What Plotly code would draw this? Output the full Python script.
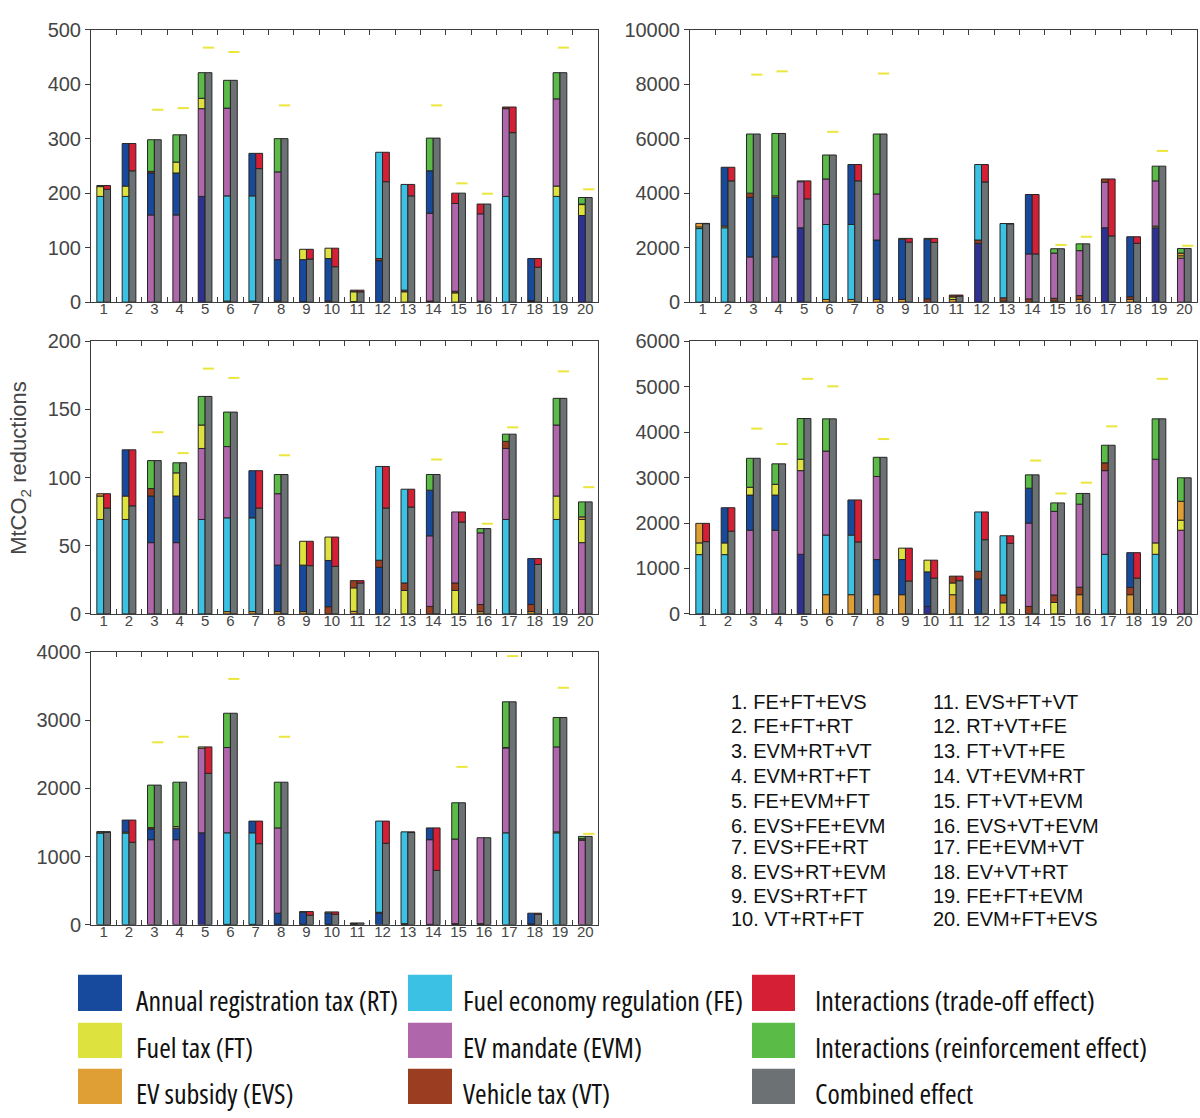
import plotly.graph_objects as go

W, H = 1200, 1118

# ---------------- data ----------------
CATEGORIES = list(range(1, 21))
CAT_LABELS = [str(c) for c in CATEGORIES]

COMBOS = [
    ["FE", "FT", "EVS"], ["FE", "FT", "RT"], ["EVM", "RT", "VT"], ["EVM", "RT", "FT"],
    ["FE", "EVM", "FT"], ["EVS", "FE", "EVM"], ["EVS", "FE", "RT"], ["EVS", "RT", "EVM"],
    ["EVS", "RT", "FT"], ["VT", "RT", "FT"], ["EVS", "FT", "VT"], ["RT", "VT", "FE"],
    ["FT", "VT", "FE"], ["VT", "EVM", "RT"], ["FT", "VT", "EVM"], ["EVS", "VT", "EVM"],
    ["FE", "EVM", "VT"], ["EVS", "VT", "RT"], ["FE", "FT", "EVM"], ["EVM", "FT", "EVS"],
]

COMBO_NAMES_1 = ["1. FE+FT+EVS", "2. FE+FT+RT", "3. EVM+RT+VT", "4. EVM+RT+FT", "5. FE+EVM+FT",
                 "6. EVS+FE+EVM", "7. EVS+FE+RT", "8. EVS+RT+EVM", "9. EVS+RT+FT", "10. VT+RT+FT"]
COMBO_NAMES_2 = ["11. EVS+FT+VT", "12. RT+VT+FE", "13. FT+VT+FE", "14. VT+EVM+RT", "15. FT+VT+EVM",
                 "16. EVS+VT+EVM", "17. FE+EVM+VT", "18. EV+VT+RT", "19. FE+FT+EVM", "20. EVM+FT+EVS"]

LEGEND_LABELS = [
    ["Annual registration tax (RT)", "Fuel economy regulation (FE)", "Interactions (trade-off effect)"],
    ["Fuel tax (FT)", "EV mandate (EVM)", "Interactions (reinforcement effect)"],
    ["EV subsidy (EVS)", "Vehicle tax (VT)", "Combined effect"],
]
LEGEND_KEYS = [["RT", "FE", "TRADE"], ["FT", "EVM", "REINF"], ["EVS", "VT", "COMB"]]

# Panel A (0-500)
A_PARTS = [[194, 18, 2], [194, 19, 78], [160, 77, 3], [160, 77, 20], [194, 161, 19],
           [2, 193, 161], [2, 193, 78], [2, 76, 161], [1, 77, 19], [2, 78, 19],
           [1, 18, 3], [76, 4, 195], [19, 3, 194], [2, 161, 78], [17, 3, 161],
           [1, 1, 160], [194, 161, 3], [1, 2, 77], [194, 19, 160], [159, 20, 1]]
A_INTER = [-7, -50, 58, 50, 47, 51, -28, 61, -18, -34, -3, -54, -21, 60, 19, 18, -47, -16, 48, 12]
A_MARK = [None, None, 353, 356, 467, 459, None, 361, None, None,
          None, None, None, 361, 218, 199, None, None, 467, 207]

# Panel B (0-10000)
B_PARTS = [[2700, 60, 130], [2730, 60, 2160], [1660, 2190, 150], [1660, 2190, 50], [2730, 1690, 30],
           [100, 2750, 1670], [100, 2750, 2200], [100, 2180, 1690], [100, 2210, 30], [120, 2190, 30],
           [100, 90, 70], [2160, 120, 2770], [40, 120, 2725], [120, 1650, 2180], [40, 100, 1660],
           [100, 140, 1650], [2730, 1670, 120], [100, 100, 2200], [2730, 60, 1660], [1620, 80, 100]]
B_INTER = [-10, -500, 2170, 2290, -660, 880, -600, 2200, -140, -150,
           -40, -640, -10, -2180, 160, 250, -2090, -240, 540, 170]
B_MARK = [None, None, 8350, 8470, None, 6250, None, 8390, None, None,
          None, None, None, None, 2100, 2400, None, None, 5550, 2070]

# Panel C (0-200)
C_PARTS = [[69.3, 17.2, 1.7], [69.3, 17.2, 33.9], [52.3, 34.2, 5.5], [52.3, 34.2, 17], [69.3, 52.1, 17.2],
           [1.7, 68.8, 52.3], [1.7, 68.8, 34.6], [1.7, 34.1, 52.4], [1.7, 34.1, 17.5], [5.3, 33.9, 17.2],
           [1.9, 17.2, 5.3], [34.2, 5.2, 68.8], [17.2, 5.5, 68.8], [5.5, 51.8, 33.5], [17.2, 5.5, 52.1],
           [1.7, 5.2, 52.6], [69.3, 52.1, 5.2], [1.7, 5.2, 33.7], [69.3, 17.2, 52.1], [52.3, 17, 1.9]]
C_INTER = [-10.5, -41.1, 20.5, 7.4, 21, 25.3, -27.4, 14.1, -17.9, -21.5,
           -1.7, -30.5, -13.1, 11.5, -7.4, 3.1, 5.3, -4.3, 19.6, 11]
C_MARK = [None, None, 133.3, 118, 180, 173.2, None, 116.4, None, None,
          None, None, None, 113.3, None, 66.2, 136.9, None, 178, 93]

# Panel D (0-6000)
D_PARTS = [[1305, 258, 430], [1305, 258, 774], [1842, 774, 172], [1842, 774, 237], [1312, 1842, 251],
           [423, 1312, 1849], [423, 1312, 774], [423, 774, 1828], [423, 774, 251], [165, 760, 258],
           [423, 258, 150], [767, 172, 1305], [244, 172, 1304], [165, 1835, 767], [251, 165, 1842],
           [423, 165, 1828], [1312, 1842, 172], [423, 158, 767], [1312, 251, 1842], [1842, 222, 416]]
D_INTER = [-402, -516, 638, 451, 896, 710, -925, 423, -724, -395,
           -100, -610, -165, 294, 186, 236, 387, -560, 889, 516]
D_MARK = [None, None, 4079, 3742, 5175, 5010, None, 3849, None, None,
          None, None, None, 3376, 2652, 2889, 4129, None, 5175, None]

# Panel E (0-4000)
E_PARTS = [[1345, 15, 5], [1345, 15, 175], [1247, 158, 19], [1247, 168, 24], [1348, 1242, 19],
           [5, 1343, 1252], [5, 1343, 172], [5, 163, 1252], [5, 177, 10], [5, 168, 14],
           [5, 10, 10], [168, 14, 1338], [5, 10, 1347], [5, 1242, 173], [5, 10, 1242],
           [5, 10, 1261], [1348, 1247, 5], [5, 5, 158], [1348, 14, 1247], [1237, 20, 5]]
E_INTER = [-10, -326, 624, 652, -388, 503, -331, 671, -53, -34,
           0, -326, -10, -624, 532, 0, 671, -15, 432, 33]
E_MARK = [None, None, 2676, 2758, None, 3607, None, 2758, None, None,
          None, None, None, None, 2316, None, 3942, None, 3477, 1333]

# ---------------- styles ----------------
COLORS = {
    "RT": "#174a9c", "FE": "#3bc1e3", "FT": "#dde23f", "EVM": "#b066ab",
    "EVS": "#e09f35", "VT": "#9b3d20", "TRADE": "#d51f35", "REINF": "#5bbb47",
    "COMB": "#6c7274",
}
NAVY = "#2e3192"
MARK_COLOR = "#ebe63c"
EDGE = "#262626"
AXIS_COLOR = "#3c3c3c"
TICK_FONT_COLOR = "#454545"
SANS = "Liberation Sans, Arial, sans-serif"
LEGEND_FONT = "Open Sans, sans-serif"

# segments drawn in a different colour in the original figure
NAVY_FIRST = {"A": [5, 20], "B": [5, 12, 17, 19], "C": [], "D": [5, 10], "E": [5]}
SEG_OVERRIDE = {("D", 3, 2): "FT"}
RED_POSITIVE = {"A": [15, 16]}

BW = 0.27

def px(x):
    return x / W

def py(y):
    return 1 - y / H

PANELS = [
    dict(id="A", parts=A_PARTS, inter=A_INTER, marks=A_MARK, ymax=500, dtick=100,
         xd=(91, 598), yd=(19, 297)),
    dict(id="B", parts=B_PARTS, inter=B_INTER, marks=B_MARK, ymax=10000, dtick=2000,
         xd=(690, 1197), yd=(19, 297)),
    dict(id="C", parts=C_PARTS, inter=C_INTER, marks=C_MARK, ymax=200, dtick=50,
         xd=(91, 598), yd=(337, 615)),
    dict(id="D", parts=D_PARTS, inter=D_INTER, marks=D_MARK, ymax=6000, dtick=1000,
         xd=(690, 1197), yd=(337, 615)),
    dict(id="E", parts=E_PARTS, inter=E_INTER, marks=E_MARK, ymax=4000, dtick=1000,
         xd=(91, 598), yd=(654, 932)),
]

fig = go.Figure()
layout_axes = {}

for i, p in enumerate(PANELS):
    suffix = "" if i == 0 else str(i + 1)
    xa, ya = "x" + suffix, "y" + suffix
    parts, inter, marks = p["parts"], p["inter"], p["marks"]
    cum = [0.0] * 20
    for lvl in range(3):
        ys, bases, cols = [], [], []
        for k in range(20):
            v = parts[k][lvl]
            key = SEG_OVERRIDE.get((p["id"], k + 1, lvl), COMBOS[k][lvl])
            col = COLORS[key]
            if lvl == 0 and (k + 1) in NAVY_FIRST.get(p["id"], []):
                col = NAVY
            ys.append(v if v > 0 else None)
            bases.append(cum[k])
            cols.append(col)
            cum[k] += v
        fig.add_trace(go.Bar(x=CATEGORIES, y=ys, base=bases, offset=-BW, width=BW,
                             marker=dict(color=cols, line=dict(color=EDGE, width=1)),
                             xaxis=xa, yaxis=ya, showlegend=False))
    # positive interaction on top of the individual-effects bar
    pos_y, pos_col = [], []
    for k in range(20):
        v = inter[k]
        pos_y.append(v if v > 0 else None)
        pos_col.append(COLORS["TRADE"] if (k + 1) in RED_POSITIVE.get(p["id"], []) else COLORS["REINF"])
    fig.add_trace(go.Bar(x=CATEGORIES, y=pos_y, base=cum[:], offset=-BW, width=BW,
                         marker=dict(color=pos_col, line=dict(color=EDGE, width=1)),
                         xaxis=xa, yaxis=ya, showlegend=False))
    # combined effect
    comb = [cum[k] + inter[k] for k in range(20)]
    fig.add_trace(go.Bar(x=CATEGORIES, y=comb, base=[0] * 20, offset=0, width=BW,
                         marker=dict(color=COLORS["COMB"], line=dict(color=EDGE, width=1)),
                         xaxis=xa, yaxis=ya, showlegend=False))
    # trade-off on top of combined
    neg_y = [(-inter[k]) if inter[k] < 0 else None for k in range(20)]
    fig.add_trace(go.Bar(x=CATEGORIES, y=neg_y, base=comb, offset=0, width=BW,
                         marker=dict(color=COLORS["TRADE"], line=dict(color=EDGE, width=1)),
                         xaxis=xa, yaxis=ya, showlegend=False))
    # yellow dash markers
    mx = [CATEGORIES[k] + BW / 2 for k in range(20) if marks[k] is not None]
    my = [marks[k] for k in range(20) if marks[k] is not None]
    fig.add_trace(go.Scatter(x=mx, y=my, mode="markers",
                             marker=dict(symbol="line-ew", size=8, color=MARK_COLOR,
                                         line=dict(width=2, color=MARK_COLOR)),
                             xaxis=xa, yaxis=ya, showlegend=False, cliponaxis=False))

    layout_axes["xaxis" + suffix] = dict(
        domain=[px(p["xd"][0]), px(p["xd"][1])], anchor=ya, range=[0.5, 20.5],
        tickmode="array", tickvals=CATEGORIES, ticktext=CAT_LABELS, ticks="",
        ticklabelstandoff=-7,
        tickfont=dict(family=SANS, size=15, color=TICK_FONT_COLOR),
        showline=True, linecolor=AXIS_COLOR, linewidth=1, mirror="allticks",
        showgrid=False, zeroline=False,
        minor=dict(tickmode="array", tickvals=[c + 0.5 for c in CATEGORIES[:-1]],
                   ticks="inside", ticklen=5, tickcolor=AXIS_COLOR, showgrid=False),
    )
    layout_axes["yaxis" + suffix] = dict(
        domain=[py(p["yd"][1]), py(p["yd"][0])], anchor=xa, range=[0, p["ymax"]],
        dtick=p["dtick"], tick0=0, tickformat="d", ticks="outside", ticklen=5, tickcolor=AXIS_COLOR,
        tickfont=dict(family=SANS, size=20, color=TICK_FONT_COLOR),
        showline=True, linecolor=AXIS_COLOR, linewidth=1, mirror=True,
        showgrid=False, zeroline=False,
    )

annotations = []
shapes = []

# y-axis title
annotations.append(dict(text="MtCO<sub>2</sub> reductions", x=px(20), y=py(466), xref="paper", yref="paper",
                        textangle=-90, showarrow=False, xanchor="center", yanchor="middle",
                        font=dict(family=SANS, size=22, color="#454545")))

# combination list
ROW_Y = [705, 729, 755, 780, 806, 831, 853, 878, 903, 926]
for j, name in enumerate(COMBO_NAMES_1):
    annotations.append(dict(text=name, x=px(729), y=py(ROW_Y[j]), xref="paper", yref="paper",
                            showarrow=False, xanchor="left", yanchor="middle",
                            font=dict(family=SANS, size=20, color="#111")))
for j, name in enumerate(COMBO_NAMES_2):
    annotations.append(dict(text=name, x=px(931), y=py(ROW_Y[j]), xref="paper", yref="paper",
                            showarrow=False, xanchor="left", yanchor="middle",
                            font=dict(family=SANS, size=20, color="#111")))

# legend
LEG_ROWS = [(983, 1020), (1032, 1068), (1079, 1115)]
LEG_COLS = [(78, 122, 134), (408, 452, 461), (752, 795, 813)]
for r in range(3):
    for c in range(3):
        x0, x1, tx = LEG_COLS[c]
        y0, y1 = LEG_ROWS[r]
        shapes.append(dict(type="rect", xref="paper", yref="paper",
                           x0=px(x0), x1=px(x1), y0=py(y1), y1=py(y0),
                           fillcolor=COLORS[LEGEND_KEYS[r][c]], line=dict(width=0)))
        annotations.append(dict(text=LEGEND_LABELS[r][c], x=px(tx), y=py((y0 + y1) / 2 + 7),
                                xref="paper", yref="paper", showarrow=False,
                                xanchor="left", yanchor="middle",
                                font=dict(family=LEGEND_FONT, size=28, color="#111")))

fig.update_layout(
    width=W, height=H, margin=dict(l=0, r=0, t=0, b=0),
    paper_bgcolor="white", plot_bgcolor="white", barmode="overlay",
    annotations=annotations, shapes=shapes, **layout_axes,
)

POST = (
    "document.body.style.margin='0';"
    "document.body.style.overflow='hidden';"
    "document.querySelectorAll('.annotation-text').forEach(function(t){"
    " if((t.style.fontFamily||'').indexOf('Open Sans')>=0){"
    "  var b0=t.getBBox();"
    "  t.style.fontStretch='75%';"
    "  var b1=t.getBBox();"
    "  var dx=b0.x-b1.x;"
    "  var x=parseFloat(t.getAttribute('x')||'0');"
    "  t.setAttribute('x', x+dx);"
    "  t.querySelectorAll('tspan').forEach(function(s){"
    "   if(s.getAttribute('x')!==null){s.setAttribute('x', parseFloat(s.getAttribute('x'))+dx);}"
    "  });"
    " }"
    "});"
)

fig.write_html("out.html", post_script=POST, config={"displayModeBar": False})
